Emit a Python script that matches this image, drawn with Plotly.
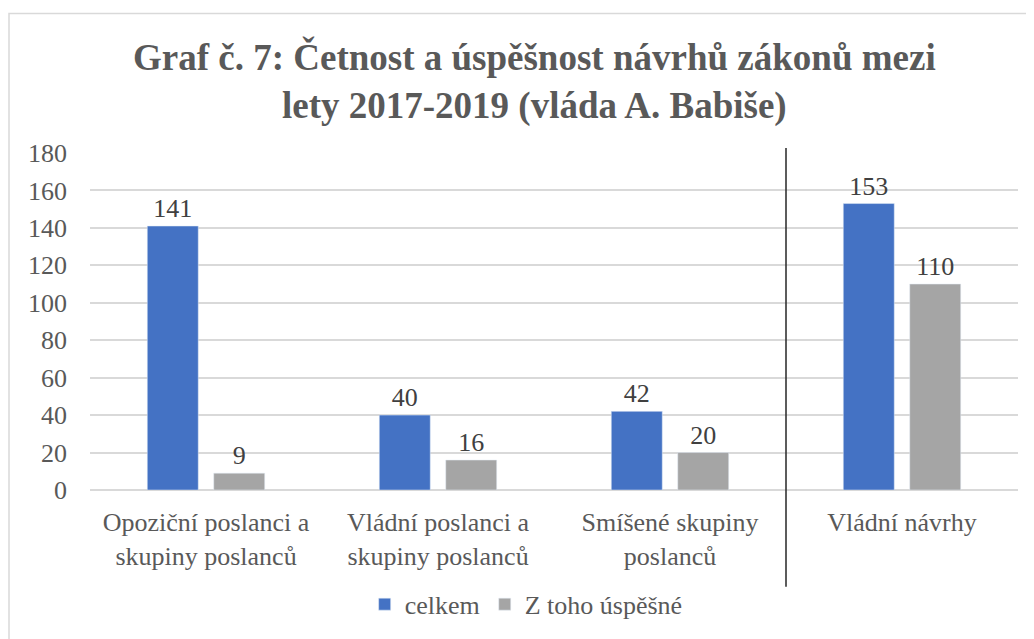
import plotly.graph_objects as go

categories = ["Opoziční poslanci a<br>skupiny poslanců",
              "Vládní poslanci a<br>skupiny poslanců",
              "Smíšené skupiny<br>poslanců",
              "Vládní návrhy"]
celkem = [141, 40, 42, 153]
uspesne = [9, 16, 20, 110]
y_ticks = [0, 20, 40, 60, 80, 100, 120, 140, 160, 180]

FONT = "Liberation Serif, Times New Roman, serif"
TXT = "#595959"

fig = go.Figure()
fig.add_trace(go.Bar(x=categories, y=celkem, name="celkem",
                     marker=dict(color="#4472C4"),
                     text=celkem, textposition="outside",
                     textfont=dict(family=FONT, size=26, color="#404040"),
                     cliponaxis=False))
fig.add_trace(go.Bar(x=categories, y=uspesne, name="Z toho úspěšné",
                     marker=dict(color="#A5A5A5"),
                     text=uspesne, textposition="outside",
                     textfont=dict(family=FONT, size=26, color="#404040"),
                     cliponaxis=False))

fig.update_layout(
    width=1026, height=631,
    margin=dict(l=82, r=16, t=145, b=148),
    paper_bgcolor="white", plot_bgcolor="white",
    barmode="group", bargap=0.427, bargroupgap=0.233,
    font=dict(family=FONT, color=TXT),
    title=dict(text="<b>Graf č. 7: Četnost a úspěšnost návrhů zákonů mezi<br>lety 2017-2019 (vláda A. Babiše)</b>",
               x=0.513, xanchor="center", y=1 - 62 / 631, yanchor="middle",
               font=dict(family=FONT, size=37, color=TXT)),
    legend=dict(orientation="h", x=0.47, xanchor="center", y=-0.335, yanchor="middle",
                font=dict(family=FONT, size=26, color=TXT), itemwidth=30,
                traceorder="normal"),
    yaxis=dict(range=[0, 180], tickvals=y_ticks, showgrid=True,
               gridcolor="#d9d9d9", gridwidth=1.5, zeroline=True,
               zerolinecolor="#d9d9d9", zerolinewidth=1.5, showline=False,
               tickfont=dict(family=FONT, size=26, color=TXT),
               ticklabelstandoff=22),
    xaxis=dict(showgrid=False, showline=False, ticks="",
               tickfont=dict(family=FONT, size=26, color=TXT),
               ticklabelstandoff=14),
    shapes=[
        dict(type="rect", xref="paper", yref="paper",
             x0=(1 - 82) / 928, x1=1.1, y0=-0.6, y1=(483 - 5) / 338,
             line=dict(color="#d9d9d9", width=1.5), layer="below"),
        dict(type="line", xref="x", yref="paper",
             x0=2.5, x1=2.5, y0=(483 - 580) / 338, y1=(483 - 140) / 338,
             line=dict(color="#262626", width=1.5)),
    ],
)

fig.write_html("out.html")
